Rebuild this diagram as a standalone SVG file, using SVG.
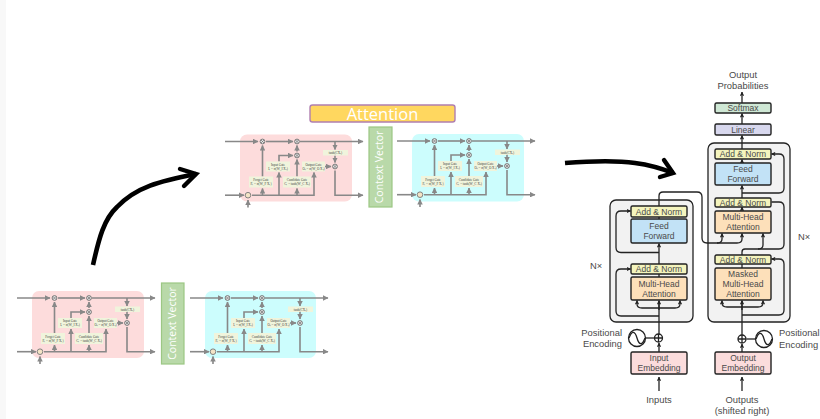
<svg xmlns="http://www.w3.org/2000/svg" xmlns:xlink="http://www.w3.org/1999/xlink" width="820" height="419" viewBox="0 0 820 419">
<style>
.w{fill:none;stroke:#888;stroke-width:1.6}
.gate{fill:#f0f4dc;stroke:none}
.x{fill:#e8e8e8;stroke:#6e6e6e;stroke-width:.9}
.o{fill:#f4e4c6;stroke:#777;stroke-width:.9}
.g{font-family:"Liberation Serif",serif;font-size:3.3px;fill:#444;text-anchor:middle}
.cv{fill:#b9d9a9;stroke:#9cc784;stroke-width:1.2}
.cvt{font-family:"Open Sans",sans-serif;font-size:10.5px;fill:#fff;text-anchor:middle}
.big{fill:#f2f2f2;stroke:#222;stroke-width:1.3}
.b{stroke:#222;stroke-width:1.4}
.t{font-family:"Liberation Sans",sans-serif;font-size:8.5px;fill:#4a4a4a;text-anchor:middle}
.l{font-family:"Liberation Sans",sans-serif;font-size:9.4px;fill:#4a4a4a}
.m{text-anchor:middle}
.c{fill:none;stroke:#222;stroke-width:1.3}
.ca{fill:none;stroke:#222;stroke-width:1.3;marker-end:url(#ah)}
.h{fill:none;stroke:#000;stroke-width:4.6;stroke-linecap:butt}
.hh{fill:none;stroke:#000;stroke-width:4.4;stroke-linecap:round;stroke-linejoin:miter}
</style>
<defs>
<marker id="ag" markerUnits="userSpaceOnUse" markerWidth="5.5" markerHeight="5.5" refX="5" refY="2.75" orient="auto"><path d="M0,0L5.500,2.750L0,5.500z" fill="#888"/></marker>
<marker id="ah" markerUnits="userSpaceOnUse" markerWidth="4.5" markerHeight="4.5" refX="4" refY="2.25" orient="auto"><path d="M0,0L4.500,2.250L0,4.500L1,2.250z" fill="#222"/></marker>
<g id="cell">
<g class="w">
<path d="M-15,7H18" marker-end="url(#ag)"/><path d="M26,7H53" marker-end="url(#ag)"/><path d="M60,7H123" marker-end="url(#ag)"/>
<path d="M-15,60.7H4" marker-end="url(#ag)"/><path d="M12,60.7H74V38" marker-end="url(#ag)"/><path d="M8,73V65.5" marker-end="url(#ag)"/>
<path d="M22.5,60.7V54" marker-end="url(#ag)"/><path d="M22.5,42V11" marker-end="url(#ag)"/>
<path d="M39,60.7V38" marker-end="url(#ag)"/><path d="M39,27V21H53" marker-end="url(#ag)"/>
<path d="M57,60.7V54" marker-end="url(#ag)"/><path d="M57,42V25" marker-end="url(#ag)"/><path d="M57,17V11" marker-end="url(#ag)"/>
<path d="M85,32H91" marker-end="url(#ag)"/><path d="M95,7V15" marker-end="url(#ag)"/><path d="M95,21V28" marker-end="url(#ag)"/><path d="M95,36V60.7H123" marker-end="url(#ag)"/>
</g>
<rect class="gate" x="9" y="42" width="24" height="11"/><rect class="gate" x="26" y="27" width="24" height="10"/><rect class="gate" x="43" y="42" width="28" height="11"/><rect class="gate" x="62" y="27" width="23" height="10"/><rect class="gate" x="83" y="15.5" width="25" height="5.5"/>
<circle class="x" cx="22.5" cy="7" r="2.4"/><circle class="x" cx="57" cy="7" r="2.4"/><circle class="x" cx="57" cy="21" r="2.4"/><circle class="x" cx="95" cy="32" r="2.4"/><circle class="o" cx="8" cy="60.7" r="2.8"/>
<path d="M21,5.500L24,8.500M24,5.500L21,8.500M55.500,5.500L58.500,8.500M58.500,5.500L55.500,8.500M55.500,19.500L58.500,22.500M58.500,19.500L55.500,22.500M93.500,30.500L96.500,33.500M96.500,30.500L93.500,33.500" stroke="#6e6e6e" stroke-width=".7"/>
</g>
</defs>
<rect width="820" height="419" fill="#fff"/>
<rect width="6" height="419" fill="#f8f8f8"/>

<g id="lstm-encoder-1" transform="translate(32,291)">
<rect width="112" height="67" rx="7" fill="#fddcdc"/><use href="#cell"/>
<text class="g" x="21" y="46.500">Forget Gate</text><text class="g" x="21" y="50.500">Fₜ = σ(W_F Xₜ)</text>
<text class="g" x="38" y="31">Input Gate</text><text class="g" x="38" y="35">Iₜ = σ(W_I Xₜ)</text>
<text class="g" x="57" y="46.500">Candidate Gate</text><text class="g" x="57" y="50.500">Cₜ = tanh(W_C Xₜ)</text>
<text class="g" x="73.500" y="31">Output Gate</text><text class="g" x="73.500" y="35">Oₜ = σ(W_O Xₜ)</text>
<text class="g" x="95.500" y="19.500">tanh(CXₜ)</text>
</g>
<g id="context-vector-1"><rect class="cv" x="161.500" y="283" width="22.500" height="81"/><text class="cvt" transform="translate(175.500,323.500) rotate(-90)">Context Vector</text></g>
<g id="lstm-decoder-1" transform="translate(205,291)">
<rect width="111" height="67" rx="7" fill="#ccfdfd"/><use href="#cell"/>
<text class="g" x="21" y="46.500">Forget Gate</text><text class="g" x="21" y="50.500">Fₜ = σ(W_F Xₜ)</text>
<text class="g" x="38" y="31">Input Gate</text><text class="g" x="38" y="35">Iₜ = σ(W_I Xₜ)</text>
<text class="g" x="57" y="46.500">Candidate Gate</text><text class="g" x="57" y="50.500">Cₜ = tanh(W_C Xₜ)</text>
<text class="g" x="73.500" y="31">Output Gate</text><text class="g" x="73.500" y="35">Oₜ = σ(W_O Xₜ)</text>
<text class="g" x="95.500" y="19.500">tanh(CXₜ)</text>
</g>

<g id="attention"><rect x="310" y="105" width="145" height="17" rx="2.500" fill="#ffd75f" stroke="#b07fb0" stroke-width="1.400"/><text x="382.500" y="120" font-family="Open Sans, sans-serif" font-size="16.500" fill="#fff" text-anchor="middle">Attention</text></g>
<g id="lstm-encoder-2" transform="translate(240,134.500)">
<rect width="112" height="67" rx="7" fill="#fddcdc"/><use href="#cell"/>
<text class="g" x="21" y="46.500">Forget Gate</text><text class="g" x="21" y="50.500">Fₜ = σ(W_F Xₜ)</text>
<text class="g" x="38" y="31">Input Gate</text><text class="g" x="38" y="35">Iₜ = σ(W_I Xₜ)</text>
<text class="g" x="57" y="46.500">Candidate Gate</text><text class="g" x="57" y="50.500">Cₜ = tanh(W_C Xₜ)</text>
<text class="g" x="73.500" y="31">Output Gate</text><text class="g" x="73.500" y="35">Oₜ = σ(W_O Xₜ)</text>
<text class="g" x="95.500" y="19.500">tanh(CXₜ)</text>
</g>
<g id="context-vector-2"><rect class="cv" x="369" y="127" width="23" height="80"/><text class="cvt" transform="translate(383,167) rotate(-90)">Context Vector</text></g>
<g id="lstm-decoder-2" transform="translate(412,134)">
<rect width="112" height="67.500" rx="7" fill="#ccfdfd"/><use href="#cell"/>
<text class="g" x="21" y="46.500">Forget Gate</text><text class="g" x="21" y="50.500">Fₜ = σ(W_F Xₜ)</text>
<text class="g" x="38" y="31">Input Gate</text><text class="g" x="38" y="35">Iₜ = σ(W_I Xₜ)</text>
<text class="g" x="57" y="46.500">Candidate Gate</text><text class="g" x="57" y="50.500">Cₜ = tanh(W_C Xₜ)</text>
<text class="g" x="73.500" y="31">Output Gate</text><text class="g" x="73.500" y="35">Oₜ = σ(W_O Xₜ)</text>
<text class="g" x="95.500" y="19.500">tanh(CXₜ)</text>
</g>

<g id="big-arrows">
<path class="h" d="M93,265C99,238 104,219 117,207C136,187 160,181 196,174"/><path class="hh" d="M180,169L196,174L184,186"/>
<path class="h" d="M565,163C590,161 615,160 635,163C650,165 663,169 673,173"/><path class="hh" d="M664,160L673,173L660,177"/>
</g>

<g id="stack-backgrounds"><rect class="big" x="610" y="200" width="83" height="122" rx="6"/><rect class="big" x="708" y="143" width="82" height="179" rx="6"/></g>

<g id="connectors">
<path class="ca" d="M659,391V377"/><path class="ca" d="M742,391V377"/>
<path class="ca" d="M659,352V343"/><path class="ca" d="M742,352V344"/>
<path class="c" d="M659,334V301"/><path class="ca" d="M659,310V300.500"/><path class="c" d="M645.500,338H654"/>
<path class="ca" d="M659,277V264.500"/><path class="ca" d="M659,264V243.500"/><path class="c" d="M659,219V196Q659,192 663,192H697Q702,192 702,197V238Q702,243 707,243H737"/>
<path class="ca" d="M717,243Q722,243 722,239V233.500"/><path class="ca" d="M737,243Q742,243 742,239V233.500"/>
<path class="ca" d="M659,316H621Q616,316 616,311V274Q616,269 621,269H630.500"/>
<path class="ca" d="M659,252.500H621Q616,252.500 616,247.500V216Q616,211 621,211H630.500"/>
<path class="ca" d="M659,308H642Q637,308 637,304V300.500"/><path class="ca" d="M659,308H675Q680,308 680,304V300.500"/>
<path class="c" d="M742,335V301"/><path class="ca" d="M742,310V300.500"/><path class="c" d="M746.500,339H755.500"/>
<path class="ca" d="M742,315H779Q784,315 784,310V264Q784,259 779,259H771.500"/>
<path class="ca" d="M742,307H727Q722,307 722,303V300.500"/><path class="ca" d="M742,307H758Q763,307 763,303V300.500"/>
<path class="c" d="M742,268V264"/><path class="c" d="M742,255V252Q742,249 745,249H779Q784,249 784,244V207Q784,202 779,202H771.500"/><path class="ca" d="M758,249Q763,249 763,245V233.500"/>
<path class="ca" d="M742,198V185.500"/><path class="ca" d="M742,211V207"/>
<path class="ca" d="M742,193H779Q784,193 784,188V159Q784,154 779,154H771.500"/>
<path class="ca" d="M742,163V159.500"/><path class="ca" d="M742,149V135.500"/><path class="ca" d="M742,124V113.500"/><path class="ca" d="M742,103V92"/>
</g>

<g id="enc-add-norm-2"><rect class="b" x="631" y="206" width="56" height="11" rx="1.500" fill="#f4f4bd"/><text class="t" x="659" y="214.500">Add &amp; Norm</text></g>
<g id="enc-feed-forward"><rect class="b" x="631" y="219" width="56" height="24" rx="1.500" fill="#c2e2f6"/><text class="t" x="659" y="228.500">Feed</text><text class="t" x="659" y="238.500">Forward</text></g>
<g id="enc-add-norm-1"><rect class="b" x="631" y="264" width="56" height="10" rx="1.500" fill="#f4f4bd"/><text class="t" x="659" y="272">Add &amp; Norm</text></g>
<g id="enc-attention"><rect class="b" x="631" y="277" width="56" height="23" rx="1.500" fill="#fde0ba"/><text class="t" x="659" y="286.500">Multi-Head</text><text class="t" x="659" y="296.500">Attention</text></g>
<g id="input-embedding"><rect class="b" x="631" y="352" width="56" height="22" rx="1.500" fill="#fbdcdc"/><text class="t" x="659" y="361">Input</text><text class="t" x="659" y="371">Embedding</text></g>
<g id="input-add"><circle class="c" cx="658.500" cy="338" r="4"/><path class="c" d="M654.500,338H662.500M658.500,334V342"/></g>
<g id="input-pos"><circle class="c" cx="637" cy="338" r="8.500"/><path class="c" d="M629,338C632,330 635,331 637,338C639,345 642,346 645,338"/><text class="l" x="622" y="336" text-anchor="end">Positional</text><text class="l" x="622" y="347" text-anchor="end">Encoding</text></g>
<text class="l m" id="label-inputs" x="659" y="403">Inputs</text>
<text class="l" id="label-nx-left" x="590" y="269">N×</text>

<g id="dec-softmax"><rect class="b" x="715" y="103" width="56" height="10" rx="1.500" fill="#cfe8d5"/><text class="t" x="743" y="111">Softmax</text></g>
<g id="dec-linear"><rect class="b" x="715" y="124" width="56" height="11" rx="1.500" fill="#d8d8ee"/><text class="t" x="743" y="132.500">Linear</text></g>
<g id="dec-add-norm-3"><rect class="b" x="715" y="149" width="56" height="10" rx="1.500" fill="#f4f4bd"/><text class="t" x="743" y="157">Add &amp; Norm</text></g>
<g id="dec-feed-forward"><rect class="b" x="715" y="163" width="56" height="22" rx="1.500" fill="#c2e2f6"/><text class="t" x="743" y="171.500">Feed</text><text class="t" x="743" y="181.500">Forward</text></g>
<g id="dec-add-norm-2"><rect class="b" x="715" y="198" width="56" height="9" rx="1.500" fill="#f4f4bd"/><text class="t" x="743" y="205.500">Add &amp; Norm</text></g>
<g id="dec-attention"><rect class="b" x="715" y="211" width="56" height="22" rx="1.500" fill="#fde0ba"/><text class="t" x="743" y="220">Multi-Head</text><text class="t" x="743" y="230">Attention</text></g>
<g id="dec-add-norm-1"><rect class="b" x="715" y="255" width="56" height="9" rx="1.500" fill="#f4f4bd"/><text class="t" x="743" y="262.500">Add &amp; Norm</text></g>
<g id="dec-masked-attention"><rect class="b" x="715" y="268" width="56" height="32" rx="1.500" fill="#fde0ba"/><text class="t" x="743" y="276.500">Masked</text><text class="t" x="743" y="286.500">Multi-Head</text><text class="t" x="743" y="296.500">Attention</text></g>
<g id="output-embedding"><rect class="b" x="715" y="352" width="56" height="22" rx="1.500" fill="#fbdcdc"/><text class="t" x="743" y="361">Output</text><text class="t" x="743" y="371">Embedding</text></g>
<g id="output-add"><circle class="c" cx="742" cy="339" r="4"/><path class="c" d="M738,339H746M742,335V343"/></g>
<g id="output-pos"><circle class="c" cx="764" cy="339" r="8.500"/><path class="c" d="M756,339C759,331 762,332 764,339C766,346 769,347 772,339"/><text class="l" x="779" y="336">Positional</text><text class="l" x="779" y="348">Encoding</text></g>
<text class="l m" id="label-outputs" x="742" y="403">Outputs</text>
<text class="l m" id="label-shifted" x="742" y="414">(shifted right)</text>
<text class="l m" id="label-output-prob-1" x="743" y="78">Output</text>
<text class="l m" id="label-output-prob-2" x="743" y="89">Probabilities</text>
<text class="l" id="label-nx-right" x="798" y="240">N×</text>
</svg>
